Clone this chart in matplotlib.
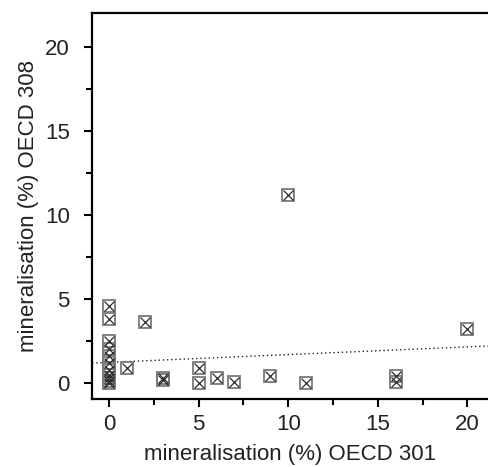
import matplotlib
matplotlib.use("Agg")
import matplotlib.pyplot as plt
import numpy as np

plt.rcParams['font.family'] = ['Liberation Sans', 'DejaVu Sans']

# mineralisation (%) OECD 301 vs OECD 308
oecd301 = [0, 0, 0, 0, 0, 0, 0, 0, 0, 0, 0,
           1, 2, 3, 3, 5, 5, 6, 7, 9, 10, 11, 16, 16, 20]
oecd308 = [4.6, 3.8, 2.5, 2.0, 1.6, 1.2, 0.8, 0.5, 0.3, 0.1, 0.0,
           0.9, 3.6, 0.3, 0.15, 0.9, 0.0, 0.3, 0.08, 0.4, 11.2, 0.0, 0.4, 0.05, 3.2]

# linear fit shown as dotted line
fit_intercept = 1.23
fit_slope = 0.046

fig = plt.figure(figsize=(4.89, 4.67), dpi=100)
ax = fig.add_axes([92 / 489, 68 / 467, 1 - 92 / 489, (399 - 13) / 467])

xl = np.array([-0.95, 21.2])
ax.plot(xl, fit_intercept + fit_slope * xl, color='#222222', lw=1.0,
        linestyle=(0, (1, 2)), zorder=1)

ax.plot(oecd301, oecd308, linestyle='none', marker='s', markersize=9,
        markerfacecolor='none', markeredgecolor='#7a7a7a', markeredgewidth=1.3,
        zorder=2)
ax.plot(oecd301, oecd308, linestyle='none', marker='x', markersize=7,
        markeredgecolor='#2a2a2a', markeredgewidth=0.9, zorder=3)

ax.set_xlim(-0.95, 21.2)
ax.set_ylim(-0.95, 22.0)
ax.set_xticks([0, 5, 10, 15, 20])
ax.set_yticks([0, 5, 10, 15, 20])
ax.set_xticks([2.5, 7.5, 12.5, 17.5], minor=True)
ax.set_yticks([2.5, 7.5, 12.5, 17.5], minor=True)
ax.tick_params(which='major', length=6, width=1.5, labelsize=16,
               labelcolor='#222222')
ax.tick_params(axis='x', which='major', pad=5)
ax.tick_params(axis='y', which='major', pad=10)
ax.tick_params(which='minor', length=4, width=1.5)

for side in ['left', 'bottom', 'top']:
    ax.spines[side].set_linewidth(1.6)
ax.spines['right'].set_visible(False)

ax.set_xlabel('mineralisation (%) OECD 301', fontsize=16, labelpad=6,
              color='#222222')
ax.set_ylabel('mineralisation (%) OECD 308', fontsize=16, labelpad=4,
              color='#222222')

fig.savefig('out.png', dpi=100)
